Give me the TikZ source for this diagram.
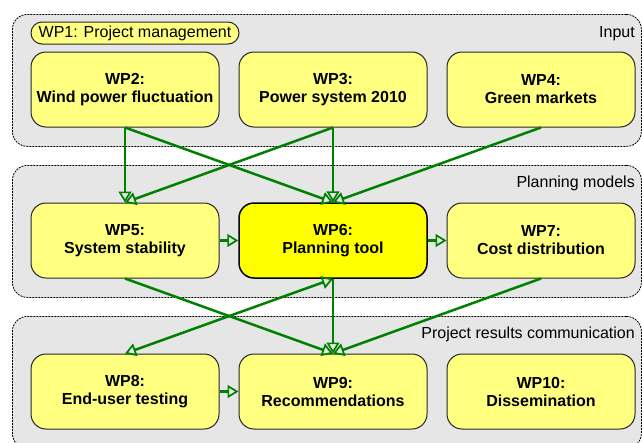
\documentclass[tikz,border=0pt]{standalone}
\usepackage{fontspec}
\setmainfont{Liberation Sans}
\usetikzlibrary{arrows.meta}
\definecolor{grpfill}{RGB}{230,230,230}
\definecolor{wpyel}{RGB}{255,255,128}
\definecolor{wpbright}{RGB}{255,255,0}
\definecolor{wpgreen}{RGB}{0,128,0}
\tikzset{wptip/.tip={Triangle[open, length=11pt, width=13pt, line width=1.7pt]}}
\begin{document}
\begin{tikzpicture}[x=1pt,y=-1pt,
  grpbox/.style={draw=black, dash pattern=on 2pt off 1pt, line width=0.8pt, fill=grpfill,
    rounded corners=15pt, minimum width=629pt, inner sep=0pt, anchor=north west},
  wpbox/.style={draw=black!85, line width=1pt, fill=wpyel, rounded corners=15pt,
    minimum width=188pt, minimum height=75pt, inner sep=0pt, align=center,
    font=\fontsize{16}{18}\selectfont\bfseries},
  keybox/.style={wpbox, fill=wpbright, draw=black, line width=1.5pt},
  pill/.style={draw=black!85, line width=1pt, fill=wpyel, rounded corners=11pt,
    minimum width=208pt, minimum height=22pt, inner sep=0pt,
    font=\fontsize{16}{18}\selectfont},
  grplabel/.style={anchor=base east, inner sep=0pt, font=\fontsize{16}{18}\selectfont},
  conn/.style={draw=wpgreen, line width=2.5pt, -wptip},
  biconn/.style={draw=wpgreen, line width=2.5pt, wptip-wptip}
]
\useasboundingbox (0,0) rectangle (642,442);
% groups
\node[grpbox, minimum height=132pt] (g1) at (12,14) {};
\node[grpbox, minimum height=132pt] (g2) at (12,165) {};
\node[grpbox, minimum height=132pt] (g3) at (12,316) {};
\node[grplabel] (l1) at (635,37) {Input};
\node[grplabel] (l2) at (635,187) {Planning models};
\node[grplabel] (l3) at (635,338) {Project results communication};
% WP1
\node[pill] (wp1) at (135,33) {WP1: Project management};
% boxes
\node[wpbox] (wp2) at (125,89.5) {WP2:\\Wind power fluctuation};
\node[wpbox] (wp3) at (333,89.5) {WP3:\\Power system 2010};
\node[wpbox] (wp4) at (541,89.5) {WP4:\\Green markets};
\node[wpbox] (wp5) at (125,240.5) {WP5:\\System stability};
\node[keybox] (wp6) at (333,240.5) {WP6:\\Planning tool};
\node[wpbox] (wp7) at (541,240.5) {WP7:\\Cost distribution};
\node[wpbox] (wp8) at (125,391.5) {WP8:\\End-user testing};
\node[wpbox] (wp9) at (333,391.5) {WP9:\\Recommendations};
\node[wpbox] (wp10) at (541,391.5) {WP10:\\Dissemination};
% connectors
\draw[conn] (wp2.south) -- (wp5.north);
\draw[conn] (wp2.south) -- (wp6.north);
\draw[conn] (wp3.south) -- (wp5.north);
\draw[conn] (wp3.south) -- (wp6.north);
\draw[conn] (wp4.south) -- (wp6.north);
\draw[conn] (wp5.east) -- (wp6.west);
\draw[conn] (wp6.east) -- (wp7.west);
\draw[conn] (wp5.south) -- (wp9.north);
\draw[conn] (wp6.south) -- (wp9.north);
\draw[conn] (wp7.south) -- (wp9.north);
\draw[biconn] (wp6.south) -- (wp8.north);
\draw[conn] (wp8.east) -- (wp9.west);
\end{tikzpicture}
\end{document}
